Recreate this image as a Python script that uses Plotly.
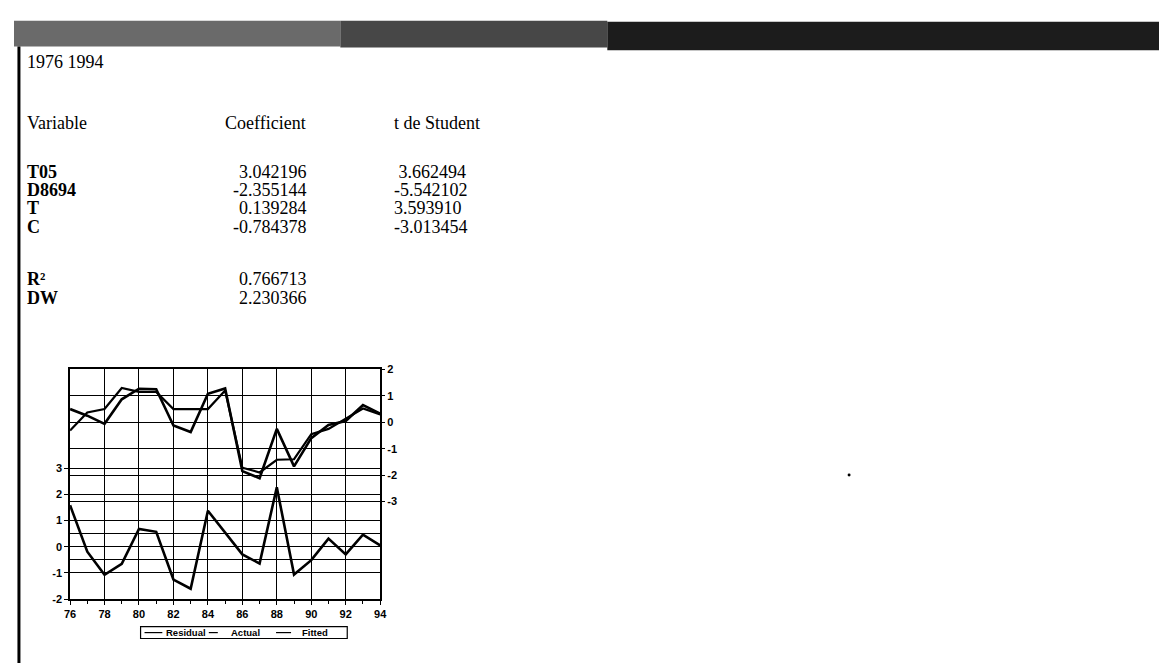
import plotly.graph_objects as go

W, H = 1167, 663


def px(x):
    return x / W


def py(y):
    return 1 - y / H


# Regression table (EViews output pasted in a document)
period = "1976 1994"
header = ["Variable", "Coefficient", "t de Student"]
variables = ["T05", "D8694", "T", "C"]
coefficients = ["3.042196", "-2.355144", "0.139284", "-0.784378"]
t_student = [" 3.662494", "-5.542102", "3.593910", "-3.013454"]
stat_names = ["R²", "DW"]
stat_values = ["0.766713", "2.230366"]

# Residual / Actual / Fitted graph
years = list(range(1976, 1995))
residual = [1.58, -0.19, -1.07, -0.65, 0.68, 0.57, -1.25, -1.60, 1.37, 0.55,
            -0.29, -0.64, 2.27, -1.06, -0.51, 0.31, -0.29, 0.46, 0.05]
actual = [0.50, 0.25, -0.06, 0.87, 1.27, 1.25, -0.12, -0.37, 1.08, 1.28,
          -1.85, -2.12, -0.25, -1.67, -0.60, -0.10, 0.05, 0.65, 0.33]
fitted = [-0.31, 0.37, 0.50, 1.30, 1.15, 1.15, 0.50, 0.50, 0.50, 1.20,
          -1.72, -1.90, -1.42, -1.40, -0.45, -0.25, 0.15, 0.52, 0.30]
series_names = ["Residual", "Actual", "Fitted"]
resid_ticks = [-2, -1, 0, 1, 2, 3]
level_ticks = [-3, -2, -1, 0, 1, 2]

serif = "Liberation Serif"
sans = "Liberation Sans"

fig = go.Figure()
fig.add_trace(go.Scatter(x=years, y=residual, name=series_names[0], mode="lines",
                         line=dict(color="black", width=2.6), yaxis="y"))
fig.add_trace(go.Scatter(x=years, y=actual, name=series_names[1], mode="lines",
                         line=dict(color="black", width=2.6), yaxis="y2"))
fig.add_trace(go.Scatter(x=years, y=fitted, name=series_names[2], mode="lines",
                         line=dict(color="black", width=2.2), yaxis="y2"))

ann = []


def txt(x, y, s, anchor="left", bold=False, size=18, family=serif):
    ann.append(dict(x=px(x), y=py(y), xref="paper", yref="paper", text=s,
                    showarrow=False, xanchor=anchor, yanchor="middle",
                    borderpad=0,
                    font=dict(family=family, size=size, color="black",
                              weight="bold" if bold else "normal")))


txt(12, 49, period)
txt(12, 111, header[0])
txt(212, 111, header[1])
txt(383, 111, header[2])
for i, (v, c, t) in enumerate(zip(variables, coefficients, t_student)):
    yy = 161 + 18.5 * i
    txt(12, yy, v, bold=True)
    txt(297, yy, c, "right")
    txt(383, yy, t.replace(" ", "&nbsp;"))
for i, (n, v) in enumerate(zip(stat_names, stat_values)):
    yy = 270 + 19 * i
    txt(12, yy, n, bold=True)
    txt(297, yy, v, "right")

shapes = [
    # scanned window title bar
    dict(type="rect", xref="paper", yref="paper", x0=0, x1=px(330),
         y0=py(33), y1=py(7), fillcolor="#6a6a6a", line=dict(width=0), layer="below"),
    dict(type="rect", xref="paper", yref="paper", x0=px(330), x1=px(600),
         y0=py(34), y1=py(7), fillcolor="#474747", line=dict(width=0), layer="below"),
    dict(type="rect", xref="paper", yref="paper", x0=px(600), x1=1,
         y0=py(37), y1=py(8), fillcolor="#1c1c1c", line=dict(width=0), layer="below"),
    # left frame border
    dict(type="line", xref="paper", yref="paper", x0=px(5), x1=px(5),
         y0=0, y1=py(33), line=dict(color="black", width=3)),
    # scan speck
    dict(type="circle", xref="paper", yref="paper", x0=px(843), x1=px(846),
         y0=py(471), y1=py(468), fillcolor="black", line=dict(width=0)),
    # legend box
    dict(type="rect", xref="paper", yref="paper", x0=px(128), x1=px(337),
         y0=py(636), y1=py(624), line=dict(color="black", width=1.2),
         fillcolor="white"),
]

# hand-made compact legend (EViews style)
legend_x = [132, 197, 265]
legend_text_x = [153, 218, 290]
legend_dash = ["solid", "dash", "longdash"]
for name, lx, tx, dash in zip(series_names, legend_x, legend_text_x, legend_dash):
    shapes.append(dict(type="line", xref="paper", yref="paper",
                       x0=px(lx), x1=px(lx + 18), y0=py(630), y1=py(630),
                       line=dict(color="black", width=1.2, dash=dash)))
    txt(tx, 630, name, bold=True, size=9.5, family=sans)

tickfont = dict(family=sans, size=11, color="black", weight="bold")

fig.update_layout(
    width=W, height=H,
    margin=dict(l=0, r=0, t=0, b=0),
    paper_bgcolor="white", plot_bgcolor="white",
    annotations=ann, shapes=shapes,
    showlegend=False,
    xaxis=dict(domain=[px(56.7), px(370.3)], range=[1976, 1994],
               tickvals=years[::2], ticktext=[str(y)[2:] for y in years[::2]],
               ticks="outside", ticklen=4, tickcolor="black", tickfont=tickfont,
               showline=True, mirror=True, linecolor="black", linewidth=1.5,
               showgrid=True, gridcolor="black", gridwidth=1, zeroline=False,
               minor=dict(tickvals=years[1::2], ticks="outside", ticklen=3,
                          tickcolor="black", showgrid=False),
               anchor="y"),
    yaxis=dict(domain=[py(596), py(362)], range=[-2, 6.76],
               tickvals=resid_ticks, ticktext=[str(v) for v in resid_ticks],
               ticks="outside", ticklen=4,
               tickcolor="black", tickfont=tickfont,
               showline=True, mirror=True, linecolor="black", linewidth=1.5,
               showgrid=True, gridcolor="black", gridwidth=1, zeroline=False,
               minor=dict(tickvals=[-0.5, 0.5], showgrid=True,
                          gridcolor="black", gridwidth=1, ticks=""),
               anchor="x"),
    yaxis2=dict(overlaying="y", side="right", range=[-6.7, 2],
                tickvals=level_ticks, ticktext=[str(v) for v in level_ticks],
                ticks="outside", ticklen=4,
                tickcolor="black", tickfont=tickfont,
                showgrid=True, gridcolor="black", gridwidth=1, zeroline=False,
                anchor="x"),
)

fig.write_html("out.html")
